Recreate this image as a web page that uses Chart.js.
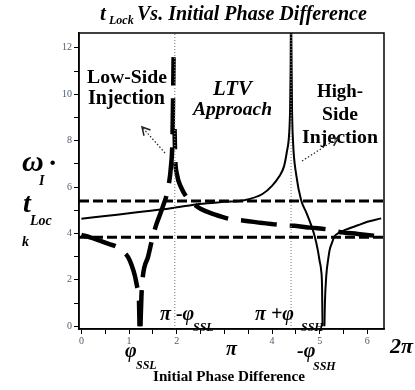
<!DOCTYPE html>
<html><head><meta charset="utf-8">
<script src="https://cdn.jsdelivr.net/npm/chart.js@4/dist/chart.umd.min.js"></script>
<style>html,body{margin:0;padding:0;background:#fff}#wrap{width:415px;height:390px}</style>
</head><body><div id="wrap"><canvas id="c" width="415" height="390"></canvas></div>
<script>
// ---- axis ranges & tick labels ----
const xMin = -0.05, xMax = 6.35, yMin = -0.12, yMax = 12.64;
const xTickLabels = {0:'0', 1:'1', 2:'2', 4:'4', 5:'5', 6:'6'};
const yTickLabels = {0:'0', 2:'2', 4:'4', 6:'6', 8:'8', 10:'10', 12:'12'};
// ---- reference levels ----
const levelLines = [5.40, 3.84];       // horizontal dashed lines
const markerXs = [1.96, 4.40];         // pi - phi_SSL, pi + phi_SSH (dotted)
// ---- LTV approach / high-side curve (thin solid) ----
const ltvAX = [0, 0.5, 1.0, 1.5, 1.96, 2.48, 3.0, 3.39, 3.8, 4.0, 4.15, 4.25, 4.31, 4.36, 4.38, 4.39, 4.395];
const ltvAY = [4.63, 4.75, 4.87, 4.99, 5.11, 5.27, 5.36, 5.42, 5.70, 6.05, 6.45, 6.88, 7.5, 8.3, 9.4, 11.0, 12.7];
const ltvBX = [4.405, 4.42, 4.44, 4.51, 4.61, 4.72, 4.82, 4.90, 4.96, 5.00, 5.03, 5.05, 5.06];
const ltvBY = [12.7, 9.4, 8.0, 6.5, 5.44, 4.9, 4.37, 3.85, 3.29, 2.8, 2.43, 1.7, 0];
const ltvCX = [5.10, 5.11, 5.14, 5.18, 5.21, 5.26, 5.31, 5.40, 5.50, 5.60, 5.80, 6.00, 6.15, 6.29];
const ltvCY = [0, 1.0, 2.2, 2.9, 3.29, 3.6, 3.87, 4.02, 4.12, 4.2, 4.35, 4.5, 4.58, 4.65];
// ---- low-side curve (thick dashed) ----
const lowAX = [0, 0.2, 0.4, 0.6, 0.73, 0.85, 0.98, 1.06, 1.12, 1.17, 1.19, 1.21, 1.22];
const lowAY = [3.94, 3.82, 3.68, 3.53, 3.44, 3.25, 2.98, 2.6, 2.2, 1.7, 1.5, 1.0, 0];
const lowBX = [1.24, 1.26, 1.29, 1.40, 1.50, 1.57, 1.70, 1.82, 1.88, 1.91, 1.925, 1.935];
const lowBY = [0, 1.3, 2.15, 3.0, 3.87, 4.37, 5.1, 5.95, 6.9, 8.0, 10.0, 11.6];
const lowCX = [1.955, 1.97, 2.0, 2.1, 2.2, 2.38, 2.5, 2.79, 3.14, 3.42, 3.8, 4.16, 4.47, 4.8, 5.24, 5.38, 5.8, 6.29];
const lowCY = [8.5, 7.2, 6.6, 5.95, 5.59, 5.23, 5.06, 4.82, 4.61, 4.55, 4.45, 4.37, 4.33, 4.25, 4.15, 4.08, 3.98, 3.87];

const pts = (xs, ys) => xs.map((x, i) => ({x, y: ys[i]}));
const thin = {borderColor:'#000', borderWidth:2, pointRadius:0, fill:false, cubicInterpolationMode:'monotone'};
const thick = {borderColor:'#000', borderWidth:4.5, borderDash:[36,13], pointRadius:0, fill:false, cubicInterpolationMode:'monotone'};

const datasets = [];
levelLines.forEach(v => datasets.push({data:[{x:xMin,y:v},{x:xMax,y:v}], borderColor:'#000', borderWidth:3, borderDash:[10,4], pointRadius:0, fill:false}));
markerXs.forEach(v => datasets.push({data:[{x:v,y:yMin},{x:v,y:yMax}], borderColor:'#8a8a8a', borderWidth:1.2, borderDash:[1,2], pointRadius:0, fill:false}));
datasets.push(Object.assign({data:pts(ltvAX, ltvAY)}, thin));
datasets.push(Object.assign({data:pts(ltvBX, ltvBY)}, thin));
datasets.push(Object.assign({data:pts(ltvCX, ltvCY)}, thin));
datasets.push(Object.assign({data:pts(lowAX, lowAY)}, thick));
datasets.push(Object.assign({data:pts(lowBX, lowBY)}, thick));
datasets.push(Object.assign({data:pts(lowCX, lowCY), borderDashOffset:16}, thick));

const SERIF = '"Liberation Serif", "Times New Roman", serif';
function fitText(ctx, t, x1, x2, base, style) {
  ctx.font = style + ' 20px ' + SERIF;
  const w = ctx.measureText(t).width;
  const sz = 20 * (x2 - x1) / w;
  ctx.font = style + ' ' + sz.toFixed(2) + 'px ' + SERIF;
  ctx.fillText(t, x1, base);
}
function txt(ctx, t, x, base, size, style) {
  ctx.font = style + ' ' + size + 'px ' + SERIF;
  ctx.fillText(t, x, base);
}
function arrow(ctx, x1, y1, x2, y2) {
  ctx.save();
  ctx.strokeStyle = '#222'; ctx.lineWidth = 1.2; ctx.setLineDash([1.5, 2]);
  ctx.beginPath(); ctx.moveTo(x1, y1); ctx.lineTo(x2, y2); ctx.stroke();
  ctx.setLineDash([]); ctx.lineWidth = 1.5;
  const a = Math.atan2(y2 - y1, x2 - x1), L = 9;
  ctx.beginPath();
  ctx.moveTo(x2 - L * Math.cos(a - 0.5), y2 - L * Math.sin(a - 0.5));
  ctx.lineTo(x2, y2);
  ctx.lineTo(x2 - L * Math.cos(a + 0.5), y2 - L * Math.sin(a + 0.5));
  ctx.stroke();
  ctx.restore();
}

const decor = {
  id: 'decor',
  afterDraw(chart) {
    const ctx = chart.ctx, ca = chart.chartArea;
    ctx.save();
    ctx.strokeStyle = '#000'; ctx.lineWidth = 1.5;
    ctx.strokeRect(ca.left, ca.top, ca.right - ca.left, ca.bottom - ca.top);
    ctx.fillStyle = '#000'; ctx.textAlign = 'left'; ctx.textBaseline = 'alphabetic';
    // title
    txt(ctx, 't', 100, 20, 21, 'bold italic');
    txt(ctx, 'Lock', 109, 24, 12, 'bold italic');
    fitText(ctx, 'Vs. Initial Phase Difference', 137, 367, 20, 'bold italic');
    // y-axis title
    txt(ctx, '\u03C9', 22, 171, 30, 'bold italic');
    txt(ctx, 'I', 39, 185, 14, 'bold italic');
    txt(ctx, '\u00B7', 48, 172, 28, 'bold');
    txt(ctx, 't', 23, 212, 28, 'bold italic');
    txt(ctx, 'Loc', 30, 225, 14, 'bold italic');
    txt(ctx, 'k', 22, 246, 14, 'bold italic');
    // in-plot labels
    fitText(ctx, 'Low-Side', 87, 167, 83, 'bold');
    fitText(ctx, 'Injection', 88, 165, 104, 'bold');
    fitText(ctx, 'LTV', 213, 252, 95, 'bold italic');
    fitText(ctx, 'Approach', 193, 272, 115, 'bold italic');
    fitText(ctx, 'High-', 317, 363, 97, 'bold');
    fitText(ctx, 'Side', 322, 358, 120, 'bold');
    fitText(ctx, 'Injection', 302, 378, 143, 'bold');
    // arrows
    arrow(ctx, 165, 153, 142, 127);
    arrow(ctx, 302, 161, 338, 138);
    // phase annotations
    txt(ctx, '\u03C0 -\u03C6', 160, 320, 20, 'bold italic');
    txt(ctx, 'SSL', 193, 331, 12, 'bold italic');
    txt(ctx, '\u03C0 +\u03C6', 255, 320, 20, 'bold italic');
    txt(ctx, 'SSH', 301, 331, 12, 'bold italic');
    txt(ctx, '\u03C6', 125, 357, 20, 'bold italic');
    txt(ctx, 'SSL', 136, 369, 12, 'bold italic');
    txt(ctx, '\u03C0', 226, 355, 20, 'bold italic');
    txt(ctx, '-\u03C6', 297, 357, 20, 'bold italic');
    txt(ctx, 'SSH', 313, 370, 12, 'bold italic');
    txt(ctx, '2\u03C0', 390, 353, 22, 'bold italic');
    fitText(ctx, 'Initial Phase Difference', 153, 305, 381, 'bold');
    ctx.restore();
  }
};

new Chart(document.getElementById('c'), {
  type: 'line',
  data: {datasets},
  options: {
    responsive: false, animation: false,
    layout: {padding: {left: 0, top: 33, right: 31, bottom: 41}},
    plugins: {legend: {display: false}, tooltip: {enabled: false}, title: {display: false}},
    scales: {
      x: {
        type: 'linear', min: xMin, max: xMax,
        afterBuildTicks: s => { const t = []; for (let i = 0; i <= 12; i++) t.push({value: i / 2}); s.ticks = t; },
        afterFit: s => { s.height = 20; },
        ticks: {callback: v => xTickLabels[v] ?? '', color: '#4d5b70', font: {family: SERIF, size: 10}, padding: 1, maxRotation: 0, autoSkip: false},
        grid: {drawOnChartArea: false, tickLength: 5, color: '#000', tickWidth: 1},
        border: {color: '#000', width: 1.5}
      },
      y: {
        type: 'linear', min: yMin, max: yMax,
        afterBuildTicks: s => { const t = []; for (let i = 0; i <= 12; i++) t.push({value: i}); s.ticks = t; },
        afterFit: s => { s.width = 79; },
        ticks: {callback: v => yTickLabels[v] ?? '', color: '#4d5b70', font: {family: SERIF, size: 10}, padding: 2, autoSkip: false},
        grid: {drawOnChartArea: false, tickLength: 5, color: '#000', tickWidth: 1},
        border: {color: '#000', width: 1.5}
      }
    }
  },
  plugins: [decor]
});
</script></body></html>
